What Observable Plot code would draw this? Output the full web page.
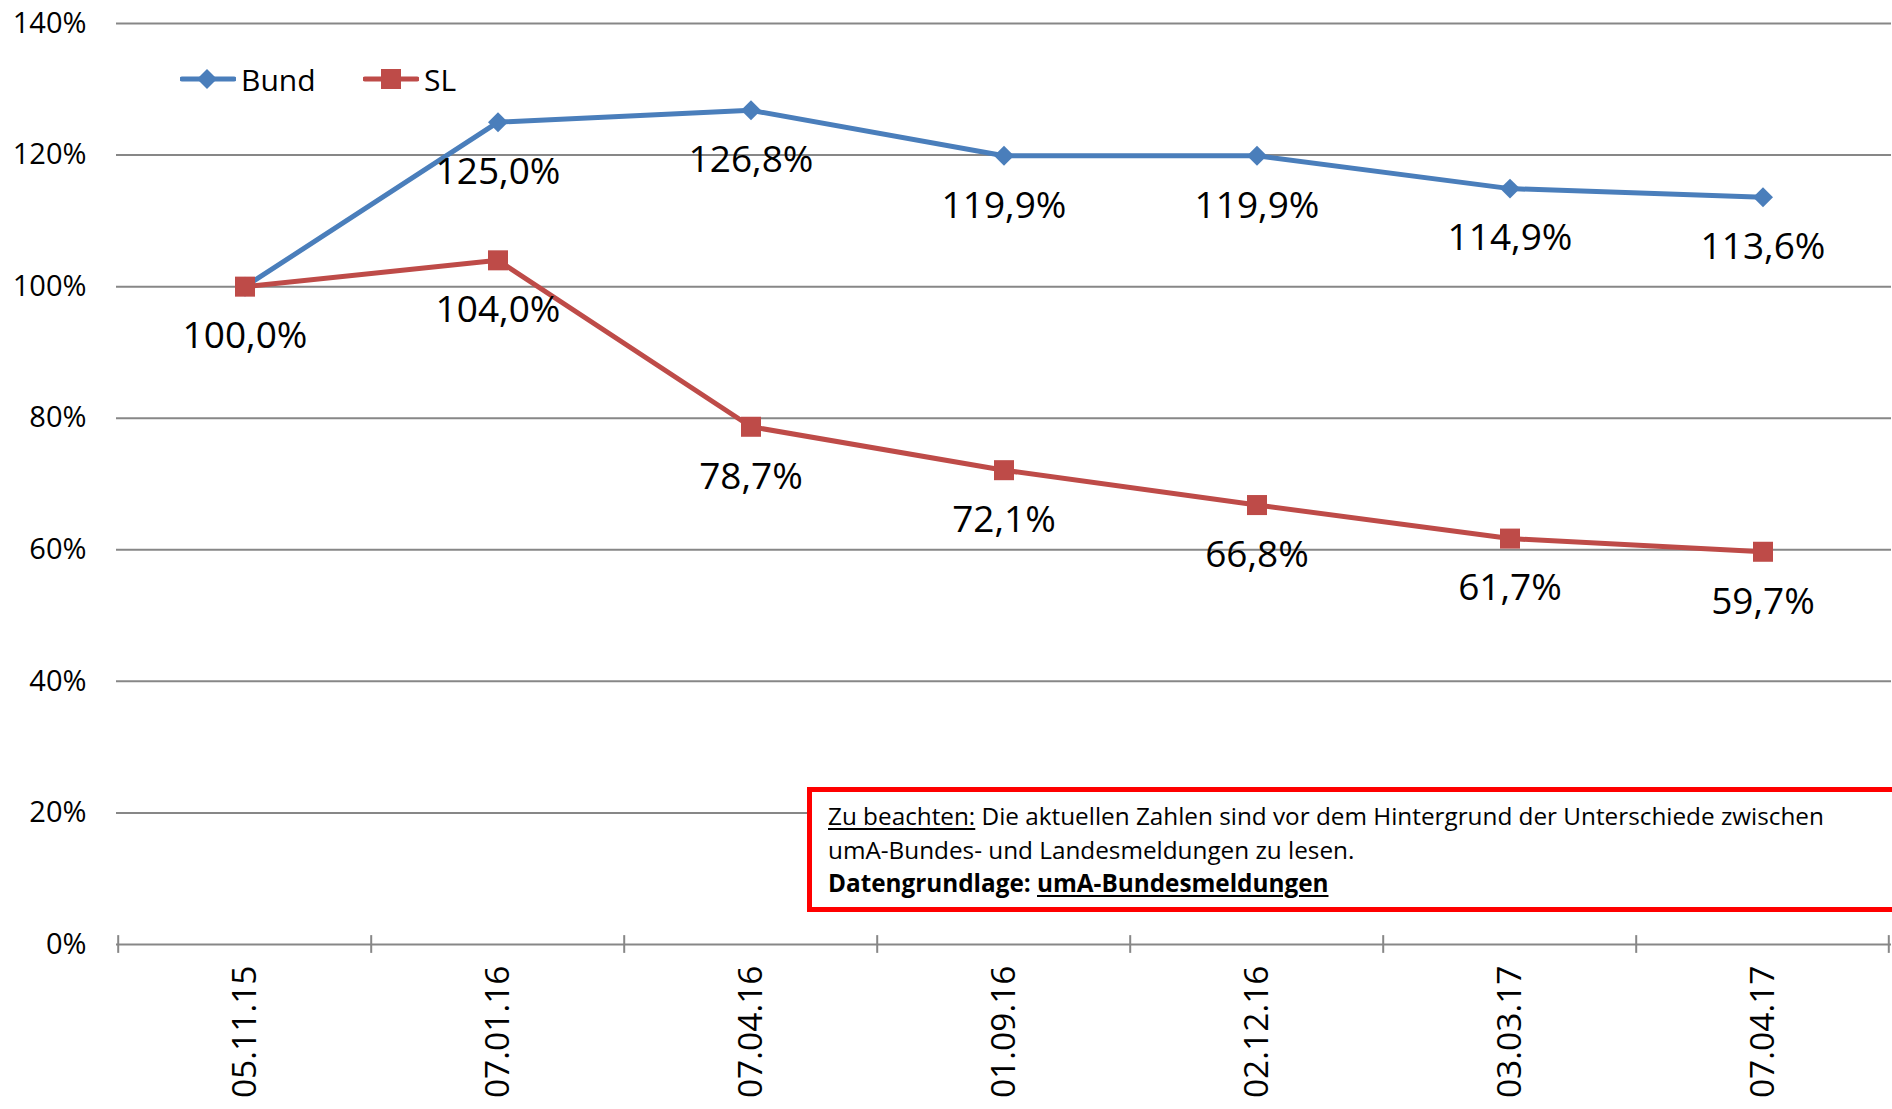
<!DOCTYPE html>
<html>
<head>
<meta charset="utf-8">
<script src="https://cdn.jsdelivr.net/npm/d3@7"></script>
<script src="https://cdn.jsdelivr.net/npm/@observablehq/plot@0.6"></script>
<style>
  html, body { margin: 0; padding: 0; background: #fff; }
  body { width: 1892px; height: 1109px; position: relative; overflow: hidden; font-family: "Open Sans", sans-serif; color: #000; }
  #chart { position: absolute; left: 0; top: 0; }
  .legend-item { position: absolute; display: flex; align-items: center; height: 40px; font-size: 30px; }
  .legend-item svg { display: block; margin-right: 5px; }
  #note { position: absolute; left: 807px; top: 787px; width: 1150px; height: 125px; border: 5px solid #ff0000; box-sizing: border-box; padding: 7px 0 0 16px; font-size: 24.3px; line-height: 33.5px; white-space: nowrap; background: #fff; }
  #note u { text-decoration-thickness: 2px; text-underline-offset: 3px; }
</style>
</head>
<body>
<div id="chart"></div>
<div class="legend-item" style="left:180px; top:59px;">
  <svg width="56" height="24"><line x1="2" y1="12" x2="54" y2="12" stroke="#4A7EBB" stroke-width="5" stroke-linecap="round"/><path d="M27 2 L37 12 L27 22 L17 12 Z" fill="#4A7EBB"/></svg><span>Bund</span>
</div>
<div class="legend-item" style="left:363px; top:59px;">
  <svg width="56" height="24"><line x1="2" y1="12" x2="54" y2="12" stroke="#BE4B48" stroke-width="5" stroke-linecap="round"/><rect x="18" y="2" width="20" height="20" fill="#BE4B48"/></svg><span>SL</span>
</div>
<div id="note">
  <div><u>Zu beachten:</u> Die aktuellen Zahlen sind vor dem Hintergrund der Unterschiede zwischen</div>
  <div>umA-Bundes- und Landesmeldungen zu lesen.</div>
  <div><b>Datengrundlage: <u>umA-Bundesmeldungen</u></b></div>
</div>
<script>
const categories = ["05.11.15", "07.01.16", "07.04.16", "01.09.16", "02.12.16", "03.03.17", "07.04.17"];
const bund = [100.0, 125.0, 126.8, 119.9, 119.9, 114.9, 113.6];
const sl = [100.0, 104.0, 78.7, 72.1, 66.8, 61.7, 59.7];
const seriesNames = ["Bund", "SL"];
const seriesColors = ["#4A7EBB", "#BE4B48"];
const yTicks = [0, 20, 40, 60, 80, 100, 120, 140];

const rows = categories.flatMap((c, i) => [
  {date: c, series: "Bund", value: bund[i]},
  {date: c, series: "SL", value: sl[i]}
]);

const W = 1892, H = 1109, ML = 116, MR = 1;
const bw = (W - ML - MR) / categories.length;
const fmt = v => v.toFixed(1).replace(".", ",") + "%";
const grid = "#878787";

const chart = Plot.plot({
  width: W,
  height: H,
  marginLeft: ML,
  marginRight: MR,
  marginTop: 23,
  marginBottom: 165,
  x: {type: "band", domain: categories, padding: 0, label: null},
  y: {domain: [0, 140], label: null},
  color: {domain: seriesNames, range: seriesColors},
  style: {fontFamily: "'Open Sans', sans-serif", background: "white", color: "black", overflow: "visible"},
  marks: [
    Plot.ruleY(yTicks, {stroke: grid, strokeWidth: 2}),
    Plot.ruleX(categories, {x: d => d, y1: -1.35, y2: 1.35, dx: -bw / 2, stroke: grid, strokeWidth: 2}),
    Plot.ruleX(categories.slice(-1), {x: d => d, y1: -1.35, y2: 1.35, dx: bw / 2 - 1, stroke: grid, strokeWidth: 2}),
    Plot.axisY({ticks: yTicks, tickSize: 0, tickPadding: 30, tickFormat: d => d + "%", fontSize: 29, fill: "black"}),
    Plot.axisX({tickSize: 0, tickRotate: -90, tickPadding: 21, fontSize: 33.5, fill: "black"}),
    Plot.line(rows, {x: "date", y: "value", z: "series", stroke: "series", strokeWidth: 5, strokeLinejoin: "round"}),
    Plot.dot(rows.filter(d => d.series === "Bund"), {x: "date", y: "value", symbol: "diamond2", r: 9, fill: "series"}),
    Plot.dot(rows.filter(d => d.series === "SL"), {x: "date", y: "value", symbol: "square", r: 11.3, fill: "series"}),
    Plot.text(rows.filter(d => !(d.series === "Bund" && d.date === categories[0])), {x: "date", y: "value", text: d => fmt(d.value), dy: 50, fontSize: 37, fill: "black"})
  ]
});
document.getElementById("chart").appendChild(chart);
</script>
</body>
</html>
